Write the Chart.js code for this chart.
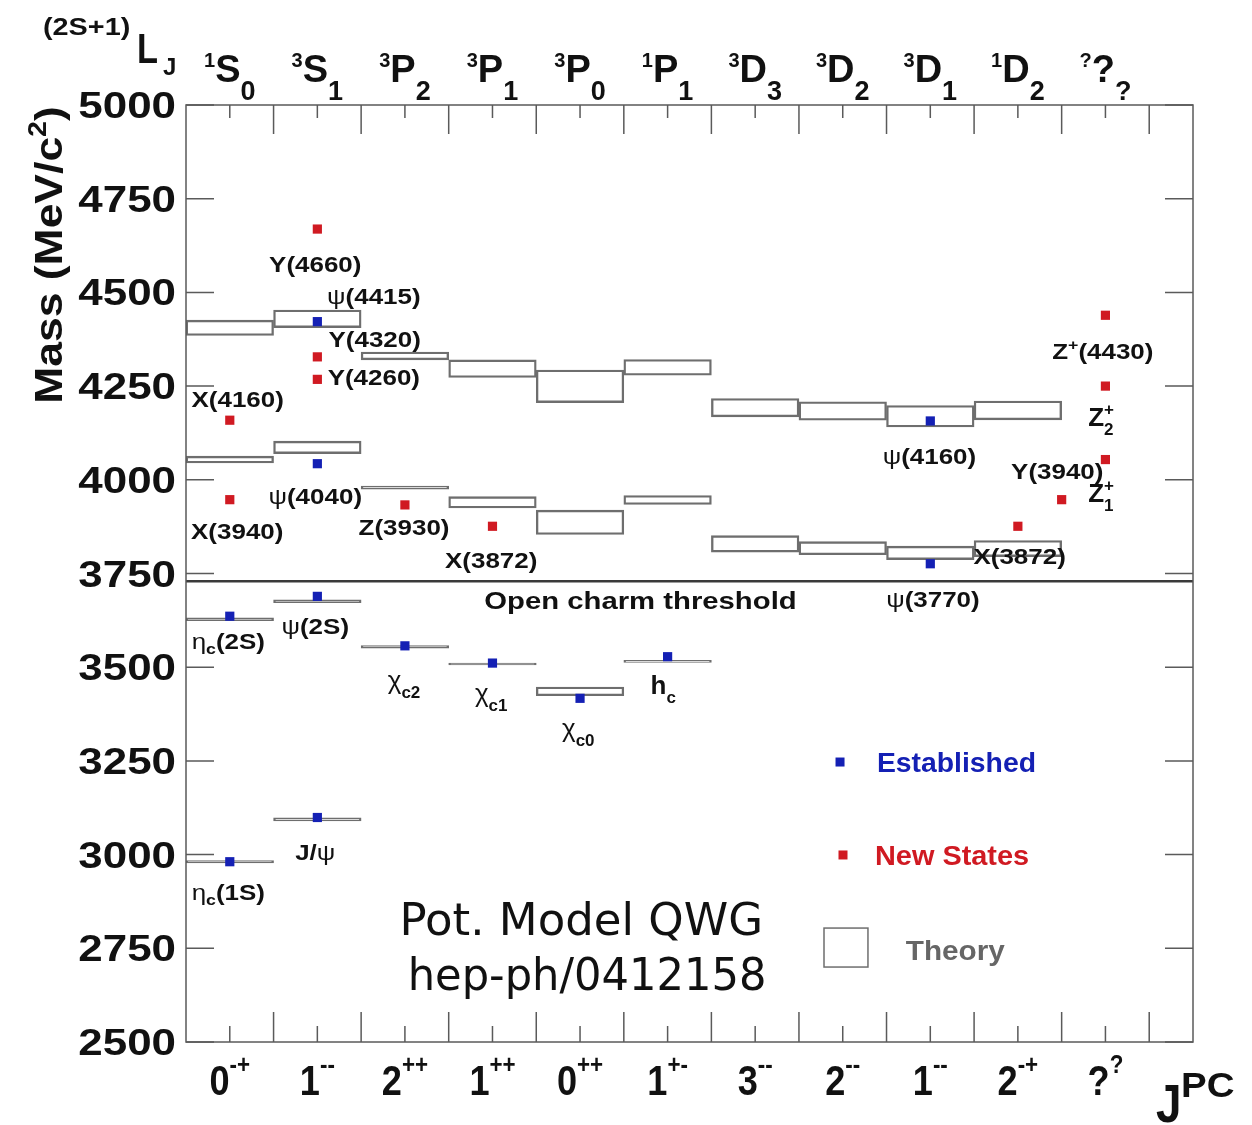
<!DOCTYPE html>
<html>
<head>
<meta charset="utf-8">
<script src="https://cdn.jsdelivr.net/npm/chart.js@4.4.1/dist/chart.umd.min.js"></script>
<style>
  html, body { margin: 0; background: #fff; }
</style>
</head>
<body>
<canvas id="spectrum" width="1252" height="1125"></canvas>
<script>
// ---- data ----
var ljLabels = ['^{1}S_{0}', '^{3}S_{1}', '^{3}P_{2}', '^{3}P_{1}', '^{3}P_{0}', '^{1}P_{1}',
                '^{3}D_{3}', '^{3}D_{2}', '^{3}D_{1}', '^{1}D_{2}', '^{?}?_{?}'];
var jpcLabels = ['0^{-+}', '1^{--}', '2^{++}', '1^{++}', '0^{++}', '1^{+-}',
                 '3^{--}', '2^{--}', '1^{--}', '2^{-+}', '?^{?}'];
var massTicks = [2500, 2750, 3000, 3250, 3500, 3750, 4000, 4250, 4500, 4750, 5000];

// theory (potential model) predictions: column index, low and high mass
var theoryCol  = [0, 0, 0, 0,   1, 1, 1, 1,   2, 2, 2,   3, 3, 3,   4, 4, 4,   5, 5, 5,   6, 6,   7, 7,   8, 8,   9, 9];
var theoryLow  = [2978, 3624, 4045, 4385,  3090, 3672, 4070, 4406,  3551, 3975, 4320,  3506, 3925, 4273,
                  3424, 3854, 4206,  3513, 3934, 4279,  3807, 4168,  3800, 4159,  3787, 4141,  3795, 4160];
var theoryHigh = [2984, 3632, 4063, 4426,  3098, 3680, 4103, 4453,  3558, 3983, 4341,  3511, 3955, 4320,
                  3447, 3919, 4293,  3518, 3958, 4321,  3851, 4217,  3835, 4208,  3823, 4198,  3838, 4210];

// established states
var establishedPos  = [0.5, 0.5, 1.5, 1.5, 1.5, 1.5, 2.5, 3.5, 4.5, 5.5, 8.5, 8.5];
var establishedMass = [2981, 3636, 3099, 3689, 4043, 4422, 3557, 3511, 3417, 3528, 4157, 3776];

// new states
var newPos  = [1.5, 1.5, 1.5, 0.5, 0.5, 2.5, 3.5, 9.5, 10.0, 10.5, 10.5, 10.5];
var newMass = [4669, 4328, 4268, 4159, 3947, 3933, 3876, 3876, 3947, 4439, 4250, 4054];

var threshold = 3729;

// state names: text, x, mass of the text centre
var stateNames = [
  ['Y(4660)', 1.476, 4575], ['ψ(4415)', 2.145, 4490], ['Y(4320)', 2.155, 4375],
  ['Y(4260)', 2.145, 4273], ['X(4160)', 0.59, 4215],  ['X(3940)', 0.585, 3863],
  ['ψ(4040)', 1.476, 3956], ['Z(3930)', 2.49, 3873],  ['X(3872)', 3.485, 3787],
  ['η_{c}(2S)', 0.483, 3569], ['ψ(2S)', 1.476, 3609], ['ψ(4160)', 8.49, 4063],
  ['ψ(3770)', 8.53, 3681], ['X(3872)', 9.52, 3796], ['Y(3940)', 9.95, 4023],
  ['Z^{+}(4430)', 10.47, 4344], ['J/ψ', 1.476, 3008], ['η_{c}(1S)', 0.483, 2901]
];
var bigNames = [
  ['χ_{c2}', 2.49, 3467], ['χ_{c1}', 3.485, 3432], ['χ_{c0}', 4.48, 3339], ['h_{c}', 5.45, 3453],
  ['Z^{+}_{2}', 10.45, 4167], ['Z^{+}_{1}', 10.45, 3966]
];

var BLUE = '#1420b4', RED = '#d01a22', GRAY = '#6e6e6e';
var FONT = '"Liberation Sans", Arial, Helvetica, sans-serif';

// ---- rich text with ^{} and _{} ----
function tokens(str) {
  var out = [], re = /\^\{([^}]*)\}|_\{([^}]*)\}|([^\^_]+)/g, m;
  while ((m = re.exec(str))) {
    if (m[1] !== undefined) out.push({t: m[1], k: 'sup'});
    else if (m[2] !== undefined) out.push({t: m[2], k: 'sub'});
    else m[3].split(/([ψηχ])/).forEach(function(s) {
      if (s) out.push({t: s, k: '', g: /[ψηχ]/.test(s)});
    });
  }
  return out;
}

function rich(ctx, str, x, y, o) {
  var size = o.size, sx = o.sx || 1, weight = o.weight || 'bold';
  var ss = o.scriptSize || Math.round(size * 0.62);
  var supSize = o.supSize || ss, subSize = o.subSize || ss;
  var rise = o.rise != null ? o.rise : size * 0.42;
  var drop = o.drop != null ? o.drop : size * 0.22;
  var fam = o.family || FONT;
  var toks = tokens(str), cx = 0, prev = null;
  toks.forEach(function(tk) {
    var fs = tk.k === 'sup' ? supSize : (tk.k === 'sub' ? subSize : size);
    ctx.font = (tk.g ? 'normal' : weight) + ' ' + fs + 'px ' + fam;
    tk.font = ctx.font;
    tk.w = ctx.measureText(tk.t).width * sx;
    if (tk.k && prev && prev.k && prev.k !== tk.k && !prev.stacked) {
      tk.x = prev.x; tk.stacked = true;
      cx = Math.max(prev.x + prev.w, tk.x + tk.w);
    } else {
      tk.x = cx; cx += tk.w;
    }
    tk.dy = tk.k === 'sup' ? -rise : (tk.k === 'sub' ? drop : 0);
    prev = tk;
  });
  var x0 = x;
  if (o.align === 'center') x0 = x - cx / 2;
  if (o.align === 'right') x0 = x - cx;
  ctx.fillStyle = o.color || '#111';
  ctx.textAlign = 'left';
  ctx.textBaseline = 'alphabetic';
  toks.forEach(function(tk) {
    ctx.font = tk.font;
    ctx.save();
    ctx.translate(x0 + tk.x, y + tk.dy);
    ctx.scale(sx, 1);
    ctx.fillText(tk.t, 0, 0);
    ctx.restore();
  });
}

// ---- frame, ticks and annotations ----
var decorations = {
  id: 'decorations',
  afterDatasetsDraw: function(chart) {
    var ctx = chart.ctx, a = chart.chartArea, xs = chart.scales.x, ys = chart.scales.y;
    var px = function(v) { return xs.getPixelForValue(v); };
    var py = function(v) { return ys.getPixelForValue(v); };
    ctx.save();

    // frame
    ctx.strokeStyle = '#5a5a5a';
    ctx.lineWidth = 1.5;
    ctx.strokeRect(a.left, a.top, a.right - a.left, a.bottom - a.top);

    // ticks, all inside
    ctx.beginPath();
    for (var i = 0; i < ljLabels.length; i++) {
      var xm = px(i + 1), xn = px(i + 0.5);
      ctx.moveTo(xm, a.top); ctx.lineTo(xm, a.top + 29);
      ctx.moveTo(xm, a.bottom); ctx.lineTo(xm, a.bottom - 30);
      ctx.moveTo(xn, a.top); ctx.lineTo(xn, a.top + 13);
      ctx.moveTo(xn, a.bottom); ctx.lineTo(xn, a.bottom - 16);
    }
    massTicks.forEach(function(m) {
      var y = py(m);
      ctx.moveTo(a.left, y); ctx.lineTo(a.left + 28, y);
      ctx.moveTo(a.right, y); ctx.lineTo(a.right - 28, y);
    });
    ctx.stroke();

    // axis numbers
    massTicks.forEach(function(m) {
      rich(ctx, String(m), a.left - 10, py(m) + 13, {size: 36, sx: 1.22, align: 'right'});
    });
    ljLabels.forEach(function(s, i) {
      rich(ctx, s, px(i + 0.5), 82, {size: 38, sx: 1.0, supSize: 20, subSize: 27, rise: 15, drop: 18, align: 'center'});
    });
    jpcLabels.forEach(function(s, i) {
      rich(ctx, s, px(i + 0.5), 1095, {size: 42, sx: 0.86, scriptSize: 26, rise: 22, align: 'center'});
    });

    // axis titles
    rich(ctx, '(2S+1)', 43, 35, {size: 24, sx: 1.2});
    rich(ctx, 'L', 137, 63, {size: 43, sx: 0.8});
    rich(ctx, 'J', 163, 75, {size: 24});
    rich(ctx, 'J', 1156, 1122, {size: 54, sx: 0.85});
    rich(ctx, 'PC', 1181, 1097, {size: 35, sx: 1.1});
    ctx.save();
    ctx.translate(62, 255);
    ctx.rotate(-Math.PI / 2);
    rich(ctx, 'Mass (MeV/c^{2})', 0, 0, {size: 39, sx: 1.14, scriptSize: 25, rise: 16, align: 'center'});
    ctx.restore();

    // state names
    stateNames.forEach(function(n) {
      rich(ctx, n[0], px(n[1]), py(n[2]) + 8, {size: 22, sx: 1.18, scriptSize: 15, rise: 9, drop: 5, align: 'center'});
    });
    bigNames.forEach(function(n) {
      rich(ctx, n[0], px(n[1]), py(n[2]) + 9, {size: 26, sx: 1.0, scriptSize: 17, rise: 11, drop: 9, align: 'center'});
    });
    rich(ctx, 'Open charm threshold', px(5.19), py(3678) + 9, {size: 24, sx: 1.22, align: 'center'});

    // legend
    ctx.fillStyle = BLUE;
    ctx.fillRect(px(7.469) - 4.5, py(3247) - 4.5, 9, 9);
    rich(ctx, 'Established', px(7.89), py(3247) + 10, {size: 27, sx: 1.05, color: BLUE});
    ctx.fillStyle = RED;
    ctx.fillRect(px(7.503) - 4.5, py(2999) - 4.5, 9, 9);
    rich(ctx, 'New States', px(7.868), py(2999) + 10, {size: 27, sx: 1.07, color: RED});
    ctx.strokeStyle = GRAY;
    ctx.lineWidth = 1.5;
    ctx.strokeRect(px(7.286), py(2804), px(7.788) - px(7.286), py(2700) - py(2804));
    rich(ctx, 'Theory', px(8.22), py(2745) + 10, {size: 27, sx: 1.1, color: '#666'});

    // reference
    rich(ctx, 'Pot. Model QWG', px(4.514), py(2785), {size: 45, weight: 'normal', family: '"DejaVu Sans", sans-serif', align: 'center'});
    rich(ctx, 'hep-ph/0412158', px(4.58), py(2638), {size: 45, sx: 0.96, weight: 'normal', family: '"DejaVu Sans", sans-serif', align: 'center'});

    ctx.restore();
  }
};

var theoryData = theoryCol.map(function(c, i) { return {x: c + 0.5, y: [theoryLow[i], theoryHigh[i]]}; });
var establishedData = establishedPos.map(function(x, i) { return {x: x, y: establishedMass[i]}; });
var newData = newPos.map(function(x, i) { return {x: x, y: newMass[i]}; });

new Chart(document.getElementById('spectrum').getContext('2d'), {
  type: 'bar',
  data: {
    datasets: [
      {type: 'scatter', label: 'Established', data: establishedData, pointStyle: 'rect',
       pointRadius: 6.5, backgroundColor: BLUE, borderWidth: 0, order: 0},
      {type: 'scatter', label: 'New States', data: newData, pointStyle: 'rect',
       pointRadius: 6.5, backgroundColor: RED, borderWidth: 0, order: 0},
      {type: 'line', label: 'Open charm threshold', data: [{x: 0, y: threshold}, {x: 11.5, y: threshold}],
       borderColor: '#3a3a3a', borderWidth: 2.5, pointRadius: 0, order: 1},
      {type: 'bar', label: 'Theory', data: theoryData, backgroundColor: 'rgba(255,255,255,0)',
       borderColor: GRAY, borderWidth: 1.7, borderSkipped: false,
       barPercentage: 1, categoryPercentage: 1, order: 2}
    ]
  },
  options: {
    responsive: false,
    animation: false,
    devicePixelRatio: 1,
    layout: {padding: {left: 186, top: 105, right: 59, bottom: 83}},
    plugins: {legend: {display: false}, tooltip: {enabled: false}},
    scales: {
      x: {type: 'linear', min: 0, max: 11.5, offset: false, display: false,
          ticks: {stepSize: 1, includeBounds: false}},
      y: {type: 'linear', min: 2500, max: 5000, display: false}
    }
  },
  plugins: [decorations]
});
</script>
</body>
</html>
